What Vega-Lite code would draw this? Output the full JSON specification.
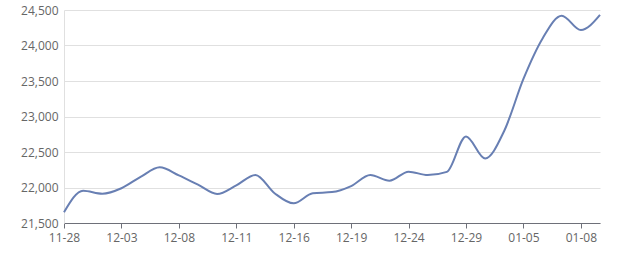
{
  "$schema": "https://vega.github.io/schema/vega-lite/v6.json",
  "width": 536,
  "height": 213,
  "autosize": "none",
  "padding": {"left": 64, "top": 10, "right": 40, "bottom": 47},
  "background": "#ffffff",
  "config": {"view": {"stroke": null}, "font": "Open Sans"},
  "data": {"values": [
    {"d": "11-28", "v": 21650},
    {"d": "11-29", "v": 21955},
    {"d": "12-02", "v": 21913},
    {"d": "12-03", "v": 21990},
    {"d": "12-04", "v": 22150},
    {"d": "12-05", "v": 22284},
    {"d": "12-08", "v": 22170},
    {"d": "12-09", "v": 22040},
    {"d": "12-10", "v": 21910},
    {"d": "12-11", "v": 22030},
    {"d": "12-12", "v": 22176},
    {"d": "12-13", "v": 21920},
    {"d": "12-16", "v": 21777},
    {"d": "12-17", "v": 21920},
    {"d": "12-18", "v": 21935},
    {"d": "12-19", "v": 22020},
    {"d": "12-20", "v": 22176},
    {"d": "12-23", "v": 22096},
    {"d": "12-24", "v": 22223},
    {"d": "12-25", "v": 22175},
    {"d": "12-26", "v": 22220},
    {"d": "12-29", "v": 22720},
    {"d": "12-30", "v": 22410},
    {"d": "12-31", "v": 22800},
    {"d": "01-05", "v": 23530},
    {"d": "01-06", "v": 24100},
    {"d": "01-07", "v": 24420},
    {"d": "01-08", "v": 24218},
    {"d": "01-09", "v": 24430}
  ]},
  "mark": {"type": "line", "interpolate": "monotone", "color": "#687fb3", "strokeWidth": 2},
  "encoding": {
    "x": {
      "field": "d", "type": "ordinal", "sort": null,
      "scale": {"type": "point", "padding": 0},
      "axis": {
        "title": null, "labelAngle": 0,
        "values": ["11-28", "12-03", "12-08", "12-11", "12-16", "12-19", "12-24", "12-29", "01-05", "01-08"],
        "domainColor": "#6e7079", "tickColor": "#6e7079", "tickSize": 5,
        "labelColor": "#666666", "labelFontSize": 12, "labelPadding": 4, "grid": false
      }
    },
    "y": {
      "field": "v", "type": "quantitative",
      "scale": {"domain": [21500, 24500], "nice": false, "zero": false},
      "axis": {
        "title": null, "values": [21500, 22000, 22500, 23000, 23500, 24000, 24500],
        "format": ",.0f", "labelColor": "#666666", "labelFontSize": 12, "labelPadding": 6,
        "ticks": false, "domain": true, "domainColor": "#e0e0e0",
        "gridColor": "#e0e0e0", "gridWidth": 1
      }
    }
  }
}
